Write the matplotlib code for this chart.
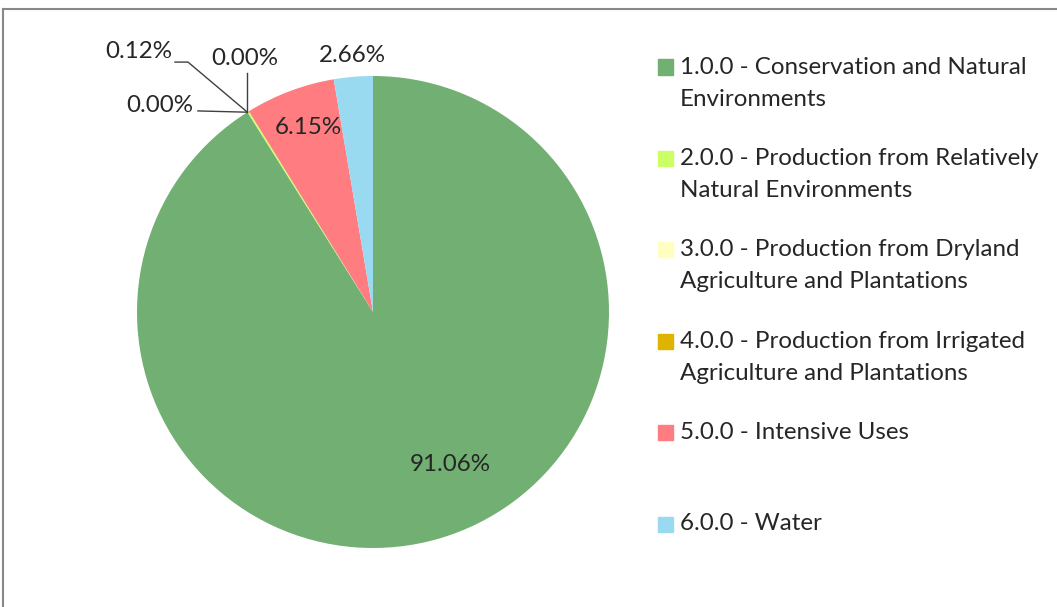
import matplotlib
matplotlib.use("Agg")
import matplotlib.pyplot as plt
from matplotlib.lines import Line2D
from matplotlib.patches import Rectangle
import numpy as np

# land use categories and their share of the area (%)
categories = [
    "1.0.0 - Conservation and Natural\nEnvironments",
    "2.0.0 - Production from Relatively\nNatural Environments",
    "3.0.0 - Production from Dryland\nAgriculture and Plantations",
    "4.0.0 - Production from Irrigated\nAgriculture and Plantations",
    "5.0.0 - Intensive Uses",
    "6.0.0 - Water",
]
shares = [91.06, 0.12, 0.00, 0.00, 6.15, 2.66]
colors = ["#72AF72", "#CCFF66", "#FFFFC0", "#DDB400", "#FF7C80", "#99DAF0"]

plt.rcParams['font.family'] = ['Lato', 'DejaVu Sans']
FS = 17.4
TC = '#262626'

fig = plt.figure(figsize=(10.57, 6.07), dpi=100)
W, H = 1057, 607

# pie centre and radius in pixels
cx, cy, R = 373, 312, 236
half = 260
ax = fig.add_axes([(cx - half) / W, (H - cy - half) / H, 2 * half / W, 2 * half / H])

wedges, _ = ax.pie(shares, colors=colors, startangle=90, counterclock=False,
                   radius=1, wedgeprops=dict(linewidth=0))

# pie() sets its own limits, so fix them afterwards
lim = half / R
ax.set_xlim(-lim, lim)
ax.set_ylim(-lim, lim)
ax.set_aspect('equal')
ax.axis('off')

pct = ["%.2f%%" % v for v in shares]

# labels that sit on or just outside their slices
ax.text(0.326, -0.648, pct[0], ha='center', va='center', fontsize=FS, color=TC)
ax.text(-0.275, 0.780, pct[4], ha='center', va='center', fontsize=FS, color=TC)
ax.text(-0.089, 1.085, pct[5], ha='center', va='center', fontsize=FS, color=TC)

# the tiny slices all meet at the end of the green wedge
end_ang = np.deg2rad(90 - 360 * shares[0] / sum(shares))
tx, ty = np.cos(end_ang), np.sin(end_ang)
lc = '#404040'

ax.text(-0.852, 1.102, pct[1], ha='right', va='center', fontsize=FS, color=TC)
ax.add_line(Line2D([-0.839, -0.784, tx], [1.059, 1.059, ty], color=lc, lw=1))

ax.text(-0.542, 1.076, pct[2], ha='center', va='center', fontsize=FS, color=TC)
ax.add_line(Line2D([tx, tx], [1.013, ty], color=lc, lw=1))

ax.text(-0.763, 0.877, pct[3], ha='right', va='center', fontsize=FS, color=TC)
ax.add_line(Line2D([-0.742, tx], [0.852, ty], color=lc, lw=1))

# legend drawn by hand, one entry every ~91 px, wrapped lines 32 px apart
for i, (lab, col) in enumerate(zip(categories, colors)):
    y = 67 + 91.4 * i
    fig.patches.append(Rectangle((658 / W, 1 - (y + 7.5) / H), 15 / W, 15 / H,
                                 transform=fig.transFigure, color=col))
    for k, line in enumerate(lab.split("\n")):
        fig.text(680 / W, 1 - (y + 32 * k) / H, line, ha='left', va='center',
                 fontsize=FS, color=TC)

# chart frame (only top and left edges visible)
fig.add_artist(Line2D([3 / W, 1], [1 - 9 / H, 1 - 9 / H], color='#888888', lw=1.5))
fig.add_artist(Line2D([3 / W, 3 / W], [0, 1 - 9 / H], color='#888888', lw=1.5))

fig.savefig("out.png", dpi=100, facecolor='white')
